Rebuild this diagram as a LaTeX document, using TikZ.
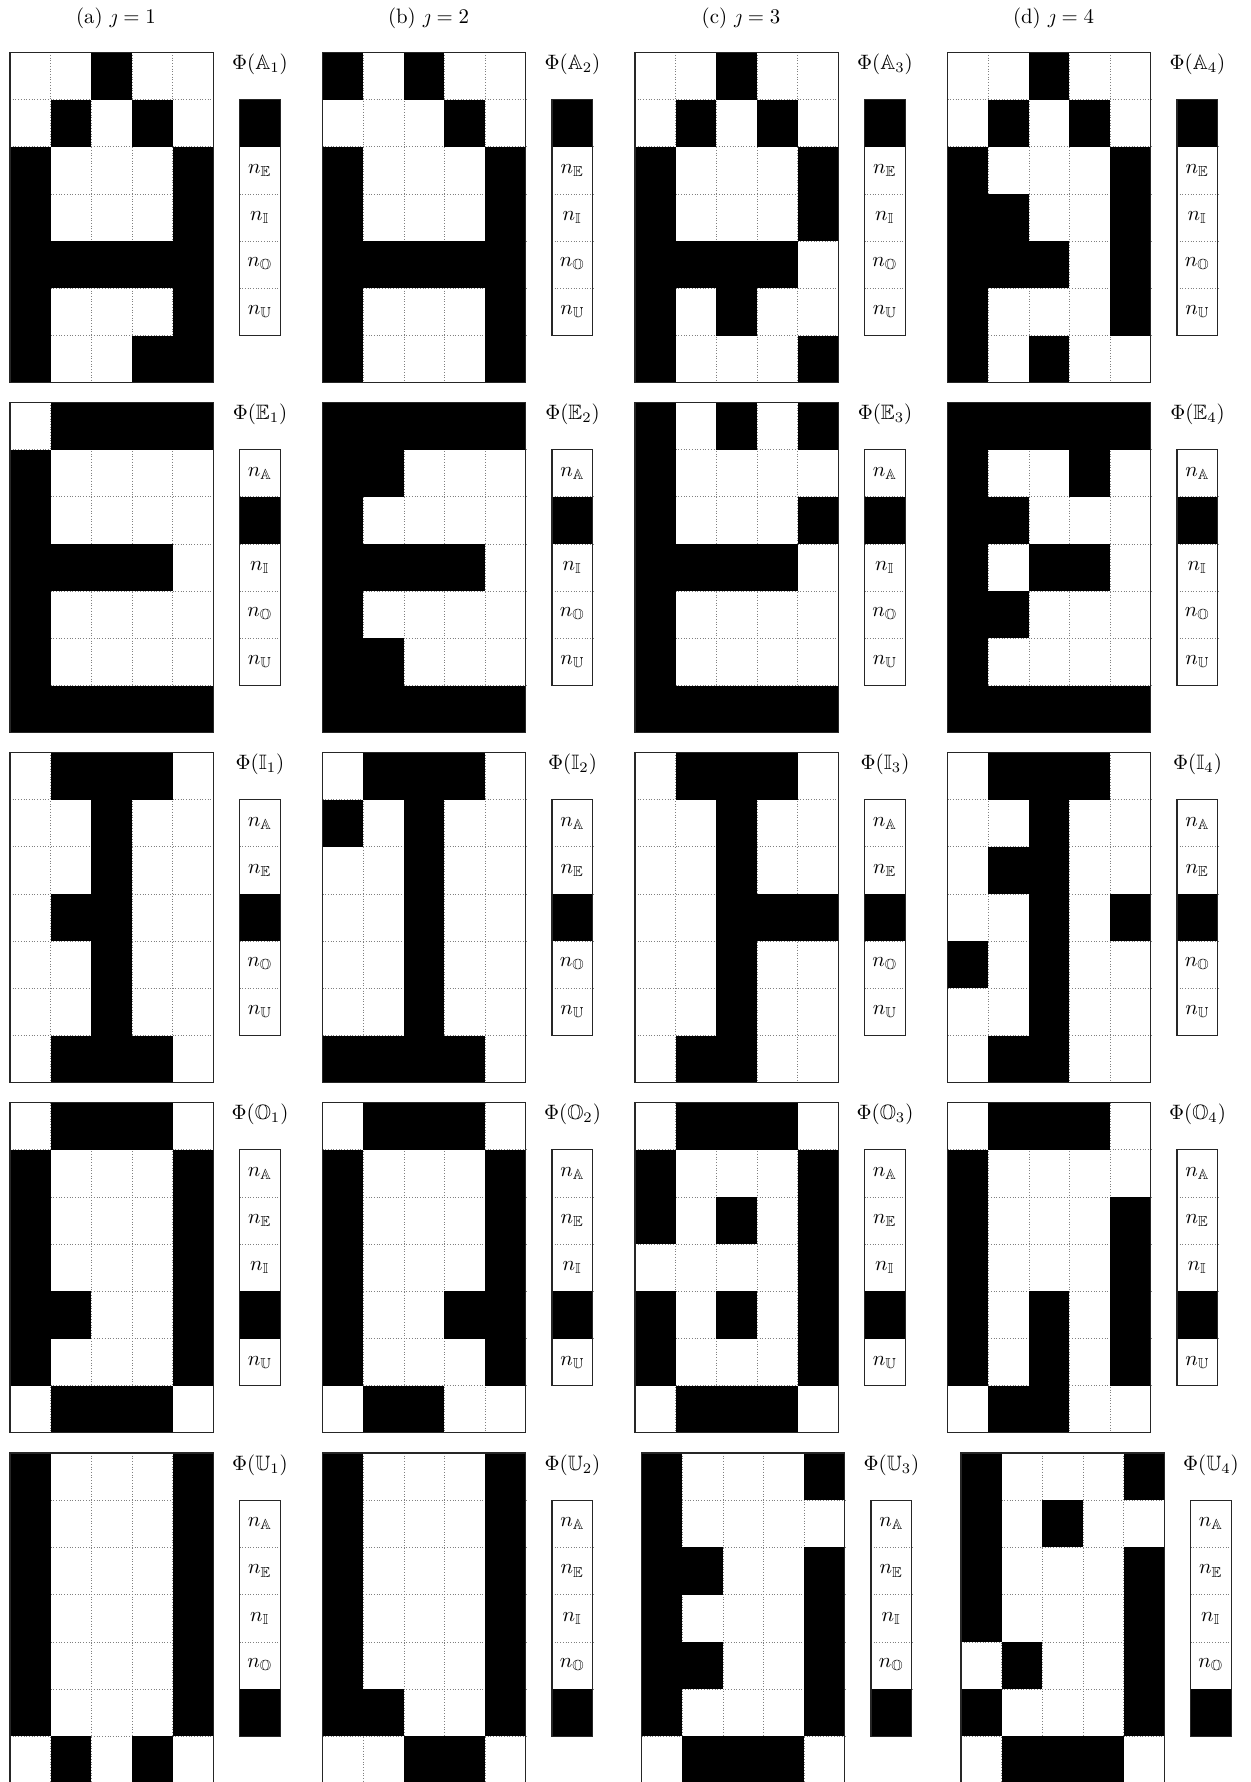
\documentclass[tikz,border=0pt]{standalone}
\usepackage{amsmath,amssymb}
\usepackage{tikz}

\newcommand{\cellw}{40.66}
\newcommand{\cellh}{47.2}

% one letter: 7x5 bitmap, its code vector and the label Phi(.)
% #1 name, #2 x, #3 y, #4 bitmap rows, #5 black slot, #6 letter, #7 j
\newcommand{\letterpanel}[7]{%
  \begin{scope}[shift={(#2,#3)}]
    \foreach \k in {1,...,4} \draw[cellgrid] (\k*\cellw,0) -- (\k*\cellw,7*\cellh);
    \foreach \k in {1,...,6} \draw[cellgrid] (0,\k*\cellh) -- (5*\cellw,\k*\cellh);
    \foreach \row [count=\r from 0] in {#4} {
      \foreach \v [count=\c from 0] in \row {
        \ifnum\v=1 \fill (\c*\cellw,\r*\cellh) rectangle ++(\cellw,\cellh); \fi
      }
    }
    \draw[gridframe] (0,0) rectangle (5*\cellw,7*\cellh);
    % code vector
    \foreach \k in {2,...,5} \draw[cellgrid] (229.5,\k*\cellh) -- ++(\cellw,0);
    \foreach \L [count=\k] in {A,E,I,O,U} {
      \ifnum\k=#5
        \fill (229.5,\k*\cellh) rectangle ++(\cellw,\cellh);
      \else
        \node[slot] (#1-\L) at (229.5+0.5*\cellw,\k*\cellh+0.5*\cellh) {$n_{\mathbb{\L}}$};
      \fi
    }
    \draw[gridframe] (229.5,\cellh) rectangle ++(\cellw,5*\cellh);
    \node[philabel] (#1-phi) at (250,12) {$\Phi(\mathbb{#6}_{#7})$};
  \end{scope}}

\begin{document}
\begin{tikzpicture}[x=0.48pt,y=-0.48pt,
  cellgrid/.style={gray,densely dotted,line width=0.3pt},
  gridframe/.style={black!85,line width=0.5pt},
  slot/.style={inner sep=0pt},
  philabel/.style={inner sep=0pt},
  head/.style={inner sep=0pt}
]
\fill[white] (0,0) rectangle (1251,1782);
\useasboundingbox (0,0) rectangle (1251,1782);
\clip (0,0) rectangle (1251,1782);

% Column heads
\node[head] (ha) at (116,18)    {(a) $\jmath = 1$};
\node[head] (hb) at (428.5,18)  {(b) $\jmath = 2$};
\node[head] (hc) at (741,18)    {(c) $\jmath = 3$};
\node[head] (hd) at (1053.5,18) {(d) $\jmath = 4$};

% A
\letterpanel{a1}{10}{52.3}{{0,0,1,0,0},{0,1,0,1,0},{1,0,0,0,1},{1,0,0,0,1},{1,1,1,1,1},{1,0,0,0,1},{1,0,0,1,1}}{1}{A}{1}
\letterpanel{a2}{322.5}{52.3}{{1,0,1,0,0},{0,0,0,1,0},{1,0,0,0,1},{1,0,0,0,1},{1,1,1,1,1},{1,0,0,0,1},{1,0,0,0,1}}{1}{A}{2}
\letterpanel{a3}{635}{52.3}{{0,0,1,0,0},{0,1,0,1,0},{1,0,0,0,1},{1,0,0,0,1},{1,1,1,1,0},{1,0,1,0,0},{1,0,0,0,1}}{1}{A}{3}
\letterpanel{a4}{947.5}{52.3}{{0,0,1,0,0},{0,1,0,1,0},{1,0,0,0,1},{1,1,0,0,1},{1,1,1,0,1},{1,0,0,0,1},{1,0,1,0,0}}{1}{A}{4}

% E
\letterpanel{e1}{10}{402.3}{{0,1,1,1,1},{1,0,0,0,0},{1,0,0,0,0},{1,1,1,1,0},{1,0,0,0,0},{1,0,0,0,0},{1,1,1,1,1}}{2}{E}{1}
\letterpanel{e2}{322.5}{402.3}{{1,1,1,1,1},{1,1,0,0,0},{1,0,0,0,0},{1,1,1,1,0},{1,0,0,0,0},{1,1,0,0,0},{1,1,1,1,1}}{2}{E}{2}
\letterpanel{e3}{635}{402.3}{{1,0,1,0,1},{1,0,0,0,0},{1,0,0,0,1},{1,1,1,1,0},{1,0,0,0,0},{1,0,0,0,0},{1,1,1,1,1}}{2}{E}{3}
\letterpanel{e4}{947.5}{402.3}{{1,1,1,1,1},{1,0,0,1,0},{1,1,0,0,0},{1,0,1,1,0},{1,1,0,0,0},{1,0,0,0,0},{1,1,1,1,1}}{2}{E}{4}

% I
\letterpanel{i1}{10}{752.3}{{0,1,1,1,0},{0,0,1,0,0},{0,0,1,0,0},{0,1,1,0,0},{0,0,1,0,0},{0,0,1,0,0},{0,1,1,1,0}}{3}{I}{1}
\letterpanel{i2}{322.5}{752.3}{{0,1,1,1,0},{1,0,1,0,0},{0,0,1,0,0},{0,0,1,0,0},{0,0,1,0,0},{0,0,1,0,0},{1,1,1,1,0}}{3}{I}{2}
\letterpanel{i3}{635}{752.3}{{0,1,1,1,0},{0,0,1,0,0},{0,0,1,0,0},{0,0,1,1,1},{0,0,1,0,0},{0,0,1,0,0},{0,1,1,0,0}}{3}{I}{3}
\letterpanel{i4}{947.5}{752.3}{{0,1,1,1,0},{0,0,1,0,0},{0,1,1,0,0},{0,0,1,0,1},{1,0,1,0,0},{0,0,1,0,0},{0,1,1,0,0}}{3}{I}{4}

% O
\letterpanel{o1}{10}{1102.5}{{0,1,1,1,0},{1,0,0,0,1},{1,0,0,0,1},{1,0,0,0,1},{1,1,0,0,1},{1,0,0,0,1},{0,1,1,1,0}}{4}{O}{1}
\letterpanel{o2}{322.5}{1102.5}{{0,1,1,1,0},{1,0,0,0,1},{1,0,0,0,1},{1,0,0,0,1},{1,0,0,1,1},{1,0,0,0,1},{0,1,1,0,0}}{4}{O}{2}
\letterpanel{o3}{635}{1102.5}{{0,1,1,1,0},{1,0,0,0,1},{1,0,1,0,1},{0,0,0,0,1},{1,0,1,0,1},{1,0,0,0,1},{0,1,1,1,0}}{4}{O}{3}
\letterpanel{o4}{947.5}{1102.5}{{0,1,1,1,0},{1,0,0,0,0},{1,0,0,0,1},{1,0,0,0,1},{1,0,1,0,1},{1,0,1,0,1},{0,1,1,0,0}}{4}{O}{4}

% U
\letterpanel{u1}{10}{1453}{{1,0,0,0,1},{1,0,0,0,1},{1,0,0,0,1},{1,0,0,0,1},{1,0,0,0,1},{1,0,0,0,1},{0,1,0,1,0}}{5}{U}{1}
\letterpanel{u2}{322.5}{1453}{{1,0,0,0,1},{1,0,0,0,1},{1,0,0,0,1},{1,0,0,0,1},{1,0,0,0,1},{1,1,0,0,1},{0,0,1,1,0}}{5}{U}{2}
\letterpanel{u3}{641.5}{1453}{{1,0,0,0,1},{1,0,0,0,0},{1,1,0,0,1},{1,0,0,0,1},{1,1,0,0,1},{1,0,0,0,1},{0,1,1,1,0}}{5}{U}{3}
\letterpanel{u4}{961}{1453}{{1,0,0,0,1},{1,0,1,0,0},{1,0,0,0,1},{1,0,0,0,1},{0,1,0,0,1},{1,0,0,0,1},{0,1,1,1,0}}{5}{U}{4}
\end{tikzpicture}
\end{document}
